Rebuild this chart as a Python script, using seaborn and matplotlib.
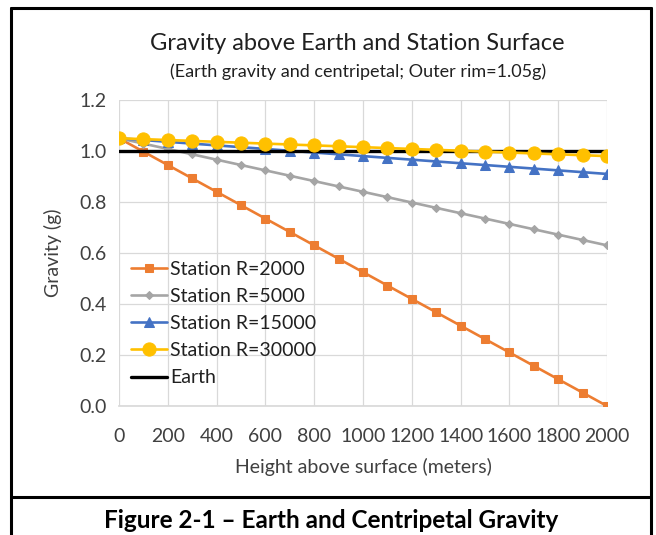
import matplotlib
matplotlib.use("Agg")
import matplotlib.pyplot as plt
from matplotlib.lines import Line2D
import seaborn as sns
import pandas as pd

heights = [0, 100, 200, 300, 400, 500, 600, 700, 800, 900, 1000,
           1100, 1200, 1300, 1400, 1500, 1600, 1700, 1800, 1900, 2000]
station_2000 = [1.05, 0.9975, 0.945, 0.8925, 0.84, 0.7875, 0.735, 0.6825, 0.63, 0.5775, 0.525,
                0.4725, 0.42, 0.3675, 0.315, 0.2625, 0.21, 0.1575, 0.105, 0.0525, 0.0]
station_5000 = [1.05, 1.029, 1.008, 0.987, 0.966, 0.945, 0.924, 0.903, 0.882, 0.861, 0.84,
                0.819, 0.798, 0.777, 0.756, 0.735, 0.714, 0.693, 0.672, 0.651, 0.63]
station_15000 = [1.05, 1.043, 1.036, 1.029, 1.022, 1.015, 1.008, 1.001, 0.994, 0.987, 0.98,
                 0.973, 0.966, 0.959, 0.952, 0.945, 0.938, 0.931, 0.924, 0.917, 0.91]
station_30000 = [1.05, 1.0465, 1.043, 1.0395, 1.036, 1.0325, 1.029, 1.0255, 1.022, 1.0185, 1.015,
                 1.0115, 1.008, 1.0045, 1.001, 0.9975, 0.994, 0.9905, 0.987, 0.9835, 0.98]
earth = [1.0] * 21
series_names = ["Station R=2000", "Station R=5000", "Station R=15000", "Station R=30000", "Earth"]
x_ticks = [0, 200, 400, 600, 800, 1000, 1200, 1400, 1600, 1800, 2000]
y_ticks = [0.0, 0.2, 0.4, 0.6, 0.8, 1.0, 1.2]

title = "Gravity above Earth and Station Surface"
subtitle = "(Earth gravity and centripetal; Outer rim=1.05g)"
xlabel = "Height above surface (meters)"
ylabel = "Gravity (g)"
caption = "Figure 2-1 \u2013 Earth and Centripetal Gravity"

sns.set_theme(style="white")
plt.rcParams["font.family"] = ["Lato", "DejaVu Sans"]

fig = plt.figure(figsize=(6.56, 5.35), dpi=100)
ax = fig.add_axes([119/656, 1 - 406/535, (607-119)/656, (406-100)/535])

styles = [
    dict(color="#ED7D31", marker="s", markersize=6, lw=1.9, zorder=3),
    dict(color="#A5A5A5", marker="D", markersize=4.5, lw=1.9, zorder=3),
    dict(color="#4472C4", marker="^", markersize=7, lw=1.9, zorder=4),
    dict(color="#FFC000", marker="o", markersize=9.5, lw=1.9, zorder=5),
    dict(color="black", marker=None, lw=2.4, zorder=4.5),
]
all_vals = [station_2000, station_5000, station_15000, station_30000, earth]
for name, vals, st in zip(series_names, all_vals, styles):
    df = pd.DataFrame({"h": heights, "g": vals})
    z = st.pop("zorder")
    kw = dict(color=st["color"], linewidth=st["lw"], label=name, ax=ax)
    if st["marker"]:
        kw.update(marker=st["marker"], markersize=st["markersize"],
                  markeredgecolor=st["color"], markerfacecolor=st["color"])
    sns.lineplot(data=df, x="h", y="g", **kw).lines[-1].set_zorder(z)

ax.set_xlim(0, 2000)
ax.set_ylim(0, 1.2)
ax.set_xticks(x_ticks)
ax.set_xticklabels([str(t) for t in x_ticks])
ax.set_yticks(y_ticks)
ax.set_yticklabels([f"{t:.1f}" for t in y_ticks])
ax.grid(True, color="#D9D9D9", linewidth=0.9)
ax.set_axisbelow(True)
for s in ["top", "right", "left"]:
    ax.spines[s].set_visible(False)
ax.spines["bottom"].set_color("#D9D9D9")
ax.tick_params(axis="y", labelsize=14, colors="#404040", length=0, pad=9)
ax.tick_params(axis="x", labelsize=14, colors="#404040", length=0, pad=16)
ax.set_xlabel(xlabel, fontsize=14, color="#404040", labelpad=9)
ax.set_ylabel(ylabel, fontsize=14, color="#404040", labelpad=12)

leg = ax.legend(loc="lower left", bbox_to_anchor=(0.025, 0.064), frameon=False,
                fontsize=14, handlelength=1.85, handletextpad=0.15, labelspacing=0.52,
                borderpad=0, borderaxespad=0)
for t in leg.get_texts():
    t.set_color("#202020")

fig.text(357/656, 1 - 43/535, title, ha="center", va="center", fontsize=17, color="#202020")
fig.text(358/656, 1 - 72/535, subtitle, ha="center", va="center", fontsize=13, color="#202020")
fig.text(331/656, 1 - 520/535, caption, ha="center", va="center", fontsize=17.5,
         fontweight="bold", color="black")

lw = 2.2
fig.add_artist(Line2D([11/656, 11/656], [0, 1 - 8/535], color="black", lw=lw, transform=fig.transFigure))
fig.add_artist(Line2D([651/656, 651/656], [0, 1 - 8/535], color="black", lw=lw, transform=fig.transFigure))
fig.add_artist(Line2D([11/656, 651/656], [1 - 8/535, 1 - 8/535], color="black", lw=lw, transform=fig.transFigure))
fig.add_artist(Line2D([11/656, 651/656], [1 - 497/535, 1 - 497/535], color="black", lw=lw, transform=fig.transFigure))

fig.savefig("out.png", dpi=100, facecolor="white")
